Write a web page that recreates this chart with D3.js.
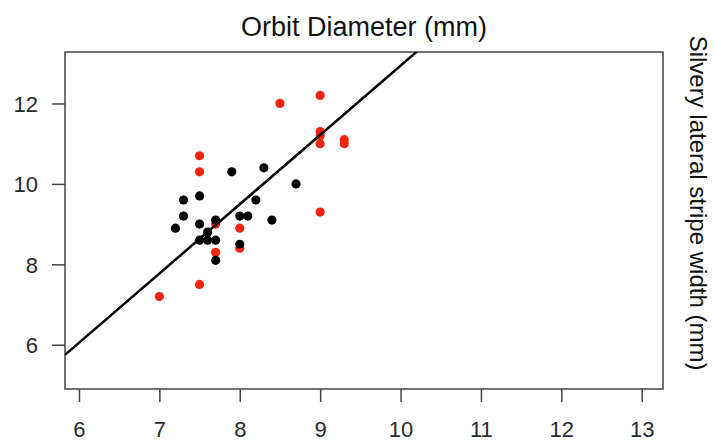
<!DOCTYPE html>
<html>
<head>
<meta charset="utf-8">
<script src="https://cdn.jsdelivr.net/npm/d3@7"></script>
<style>
  body { margin: 0; background: #fff; }
  svg { display: block; font-family: "Liberation Sans", Arial, sans-serif; }
</style>
</head>
<body>
<div id="chart"></div>
<script>
var xTicks = [6, 7, 8, 9, 10, 11, 12, 13];
var yTicks = [6, 8, 10, 12];

// black group
var blackX = [8.3, 7.9, 7.5, 7.3, 8.2, 7.3, 7.5, 7.7, 8.0, 8.1, 8.4, 7.2, 7.6, 7.5, 7.6, 7.7, 8.0, 7.7, 8.7];
var blackY = [10.4, 10.3, 9.7, 9.6, 9.6, 9.2, 9.0, 9.1, 9.2, 9.2, 9.1, 8.9, 8.8, 8.6, 8.6, 8.6, 8.5, 8.1, 10.0];

// red group
var redX = [7.0, 7.5, 7.5, 7.5, 8.5, 9.0, 9.0, 9.0, 9.0, 9.3, 9.3, 9.0, 8.0, 8.0, 7.7, 7.7];
var redY = [7.2, 7.5, 10.7, 10.3, 12.0, 12.2, 11.3, 11.2, 11.0, 11.1, 11.0, 9.3, 8.9, 8.4, 8.3, 9.0];

// fitted line y = a + b*x
var lineIntercept = -4.29;
var lineSlope = 1.723;

var width = 717, height = 441;
var margin = {top: 52, right: 54, bottom: 52, left: 65};

var svg = d3.select('#chart').append('svg')
  .attr('width', width)
  .attr('height', height);

var x = d3.scaleLinear().domain([5.826, 13.265]).range([margin.left, width - margin.right]);
var y = d3.scaleLinear().domain([4.9, 13.28]).range([height - margin.bottom, margin.top]);

svg.append('defs').append('clipPath').attr('id', 'plotclip')
  .append('rect')
  .attr('x', margin.left).attr('y', margin.top)
  .attr('width', width - margin.left - margin.right)
  .attr('height', height - margin.top - margin.bottom);

// axes
var xAxis = svg.append('g')
  .attr('transform', 'translate(0,' + (height - margin.bottom) + ')')
  .call(d3.axisBottom(x).tickValues(xTicks).tickSize(13).tickPadding(19).tickFormat(d3.format('d')));
var yAxis = svg.append('g')
  .attr('transform', 'translate(' + margin.left + ',0)')
  .call(d3.axisLeft(y).tickValues(yTicks).tickSize(13).tickPadding(14).tickFormat(d3.format('d')));

[xAxis, yAxis].forEach(function(g) {
  g.select('.domain').remove();
  g.selectAll('line').attr('stroke', '#444').attr('stroke-width', 1.5);
  g.selectAll('text').attr('fill', '#2b2b2b').style('font-size', '22px')
    .style('font-family', '"Liberation Sans", Arial, sans-serif');
});
yAxis.selectAll('text').attr('dy', '0.36em');

// box
svg.append('rect')
  .attr('x', margin.left).attr('y', margin.top)
  .attr('width', width - margin.left - margin.right)
  .attr('height', height - margin.top - margin.bottom)
  .attr('fill', 'none').attr('stroke', '#444').attr('stroke-width', 1.5);

var plot = svg.append('g').attr('clip-path', 'url(#plotclip)');

var red = redX.map(function(v, i) { return {x: v, y: redY[i]}; });
var black = blackX.map(function(v, i) { return {x: v, y: blackY[i]}; });

plot.selectAll('circle.red').data(red).enter().append('circle')
  .attr('class', 'red')
  .attr('cx', function(d) { return x(d.x); })
  .attr('cy', function(d) { return y(d.y); })
  .attr('r', 4.6)
  .attr('fill', '#f7230f');

plot.selectAll('circle.black').data(black).enter().append('circle')
  .attr('class', 'black')
  .attr('cx', function(d) { return x(d.x); })
  .attr('cy', function(d) { return y(d.y); })
  .attr('r', 4.6)
  .attr('fill', '#000');

var xd = x.domain();
plot.append('line')
  .attr('x1', x(xd[0])).attr('y1', y(lineIntercept + lineSlope * xd[0]))
  .attr('x2', x(xd[1])).attr('y2', y(lineIntercept + lineSlope * xd[1]))
  .attr('stroke', '#000').attr('stroke-width', 2.5);

// titles
svg.append('text')
  .attr('x', (margin.left + width - margin.right) / 2)
  .attr('y', 36)
  .attr('text-anchor', 'middle')
  .attr('fill', '#111')
  .style('font-size', '27px')
  .text('Orbit Diameter (mm)');

svg.append('text')
  .attr('transform', 'translate(690,' + 203 + ') rotate(90)')
  .attr('text-anchor', 'middle')
  .attr('fill', '#111')
  .style('font-size', '24px')
  .text('Silvery lateral stripe width (mm)');
</script>
</body>
</html>
